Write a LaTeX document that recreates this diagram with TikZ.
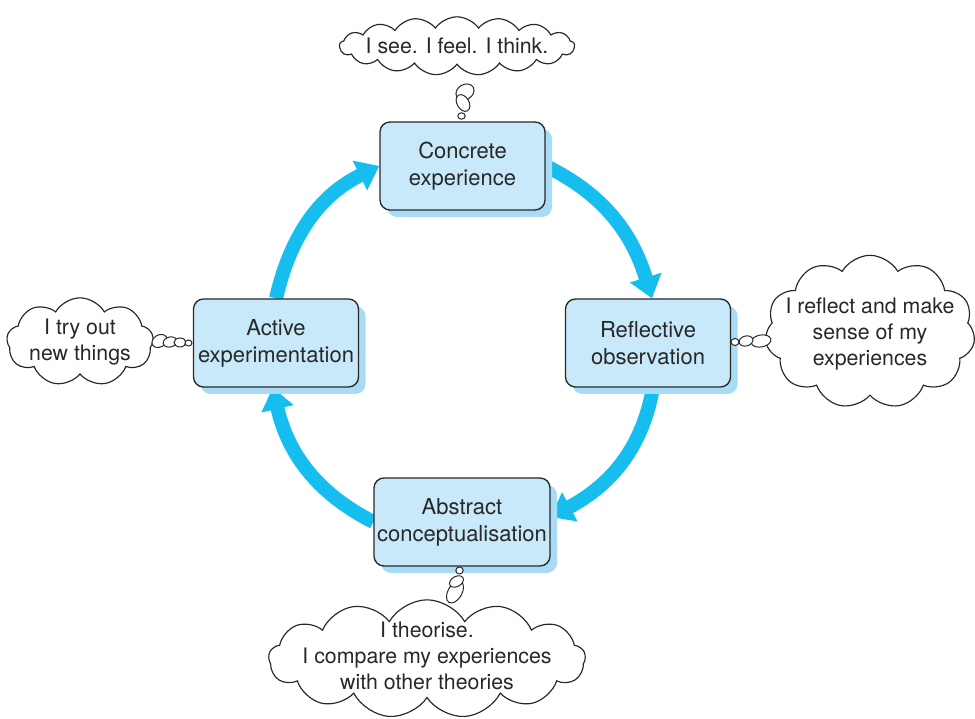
\documentclass[tikz,border=0pt]{standalone}
\usepackage{fontspec}
\setmainfont{TeX Gyre Heros}
\usepackage{xcolor}
\usepackage{tikz}
\usetikzlibrary{shapes.symbols, arrows.meta, positioning, shadows, backgrounds}

\definecolor{boxblue}{RGB}{200,233,249}
\definecolor{shadeblue}{RGB}{168,219,245}
\definecolor{cyclecyan}{RGB}{22,190,240}
\definecolor{inkgray}{RGB}{40,40,40}

\begin{document}
\begin{tikzpicture}[
    x=0.6pt, y=0.6pt,
    box/.style={draw=inkgray, line width=0.8pt, rectangle, rounded corners=6pt, fill=boxblue, minimum width=99pt, minimum height=52.8pt, align=center, inner sep=0pt, text=inkgray, font=\fontsize{13.2}{16.2}\selectfont, drop shadow={shadow xshift=4.2pt, shadow yshift=-4.2pt, fill=shadeblue, opacity=1}},
    thought/.style={draw=inkgray, line width=0.7pt, cloud, cloud puffs=11, cloud puff arc=120, cloud ignores aspect, fill=white, inner sep=0pt},
    words/.style={align=center, text=inkgray, font=\fontsize{12.8}{15.6}\selectfont},
    puff/.style={draw=inkgray, line width=0.6pt, fill=white},
    arrow/.style={line width=8.4pt, draw=cyclecyan, -{Triangle[width=19pt, length=13pt]}}
]
    \useasboundingbox (0,0) rectangle (975,719);

    % the four stages
    \node[box] (concrete) at (462.5,553) {Concrete\\experience};
    \node[box] (reflective) at (648,376) {Reflective\\observation};
    \node[box, minimum width=105.6pt] (abstract) at (462,197) {Abstract\\conceptualisation};
    \node[box] (active) at (276,376) {Active\\experimentation};

    % the cycle
    \begin{scope}[on background layer]
        \draw[arrow] (concrete.east) to[out=-26, in=107] ([xshift=2.4pt]reflective.north);
        \draw[arrow] ([xshift=3pt]reflective.south) to[out=-100, in=28] ([yshift=3pt]abstract.east);
        \draw[arrow] (abstract.west) to[out=153, in=-77] ([xshift=-2pt]active.south);
        \draw[arrow] (active.north) to[out=77, in=206] (concrete.west);
    \end{scope}

    % thought clouds
    \node[thought, cloud puffs=17, cloud puff arc=110, minimum width=141pt, minimum height=35pt, label={[words]center:I see. I feel. I think.}] (seecloud) at (457,673) {};
    \node[thought, minimum width=126pt, minimum height=92pt, label={[words, yshift=-1.5pt]center:{I reflect and make\\sense of my\\experiences}}] (reflectcloud) at (870,387) {};
    \node[thought, cloud puffs=9, minimum width=88pt, minimum height=53pt, label={[words]center:{I try out\\new things}}] (trycloud) at (80,377) {};
    \node[thought, cloud puffs=13, minimum width=190pt, minimum height=71pt, label={[words, yshift=2pt]center:{I theorise.\\I compare my experiences\\with other theories}}] (theorycloud) at (427,60) {};

    % bubbles
    \draw[puff, rotate around={30:(465,627)}] (465,627) ellipse [x radius=9.5, y radius=7.5];
    \draw[puff, rotate around={-60:(463,616)}] (463,616) ellipse [x radius=9, y radius=6];
    \draw[puff] (461.5,603) ellipse [x radius=3.7, y radius=3.2];

    \draw[puff, rotate around={10:(761,378)}] (761,378) ellipse [x radius=10, y radius=6];
    \draw[puff, rotate around={15:(746,378)}] (746,378) ellipse [x radius=7, y radius=5];
    \draw[puff] (735,377) ellipse [x radius=4, y radius=3.5];

    \draw[puff, rotate around={30:(159.5,378)}] (159.5,378) ellipse [x radius=8, y radius=6];
    \draw[puff, rotate around={15:(170,377)}] (170,377) ellipse [x radius=7, y radius=5];
    \draw[puff] (180,376.5) ellipse [x radius=6, y radius=4.5];
    \draw[puff] (188.5,376) ellipse [x radius=3.5, y radius=3];

    \draw[puff, rotate around={60:(455,127)}] (455,127) ellipse [x radius=12, y radius=7];
    \draw[puff, rotate around={30:(456.5,137.5)}] (456.5,137.5) ellipse [x radius=7.5, y radius=5];
    \draw[puff] (459.5,148.5) ellipse [x radius=3.7, y radius=3.5];
\end{tikzpicture}
\end{document}
